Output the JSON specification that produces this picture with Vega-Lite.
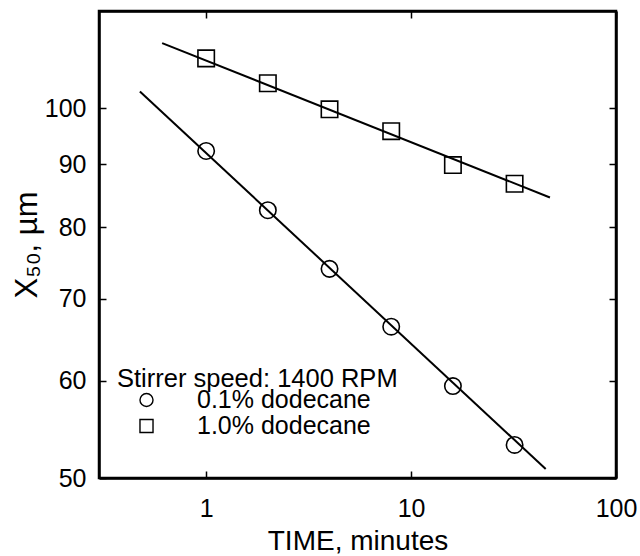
{
  "$schema": "https://vega.github.io/schema/vega-lite/v6.json",
  "autosize": {"type": "none"},
  "padding": {"left": 99, "top": 11, "right": 24, "bottom": 78},
  "width": 517,
  "height": 467,
  "background": "white",
  "config": {
    "view": {"stroke": "black", "strokeWidth": 2.5},
    "font": "Liberation Sans",
    "axis": {
      "grid": false,
      "domainColor": "black",
      "domainWidth": 2.5,
      "tickColor": "black",
      "tickWidth": 1.5,
      "tickSize": -7,
      "labelFont": "Liberation Sans",
      "labelFontSize": 25,
      "labelColor": "black",
      "labelFlush": false,
      "labelOverlap": false,
      "titleFont": "Liberation Sans",
      "titleFontSize": 28,
      "titleFontWeight": "normal",
      "titleColor": "black"
    }
  },
  "datasets": {
    "pts": [
      {"time": 1, "x50": 92.3, "series": "0.1% dodecane"},
      {"time": 2, "x50": 82.6, "series": "0.1% dodecane"},
      {"time": 4, "x50": 74.0, "series": "0.1% dodecane"},
      {"time": 8, "x50": 66.4, "series": "0.1% dodecane"},
      {"time": 16, "x50": 59.4, "series": "0.1% dodecane"},
      {"time": 32, "x50": 53.2, "series": "0.1% dodecane"},
      {"time": 1, "x50": 109.8, "series": "1.0% dodecane"},
      {"time": 2, "x50": 104.8, "series": "1.0% dodecane"},
      {"time": 4, "x50": 99.8, "series": "1.0% dodecane"},
      {"time": 8, "x50": 95.8, "series": "1.0% dodecane"},
      {"time": 16, "x50": 89.9, "series": "1.0% dodecane"},
      {"time": 32, "x50": 86.8, "series": "1.0% dodecane"}
    ],
    "fits": [
      {"time": 0.475, "x50": 103.2, "series": "0.1% dodecane"},
      {"time": 45.4, "x50": 50.85, "series": "0.1% dodecane"},
      {"time": 0.61, "x50": 113.0, "series": "1.0% dodecane"},
      {"time": 47.6, "x50": 84.6, "series": "1.0% dodecane"}
    ]
  },
  "layer": [
    {
      "data": {"name": "fits"},
      "mark": {"type": "line", "color": "black", "strokeWidth": 2},
      "encoding": {
        "x": {"field": "time", "type": "quantitative", "scale": {"type": "log", "domain": [0.3, 100], "nice": false}, "axis": null},
        "y": {"field": "x50", "type": "quantitative", "scale": {"type": "log", "domain": [50, 120], "nice": false}, "axis": null},
        "detail": {"field": "series"}
      }
    },
    {
      "data": {"name": "pts"},
      "mark": {"type": "point", "filled": false, "stroke": "black", "strokeWidth": 1.6, "size": 270, "opacity": 1},
      "encoding": {
        "x": {"field": "time", "type": "quantitative", "scale": {"type": "log", "domain": [0.3, 100], "nice": false},
          "axis": {"orient": "bottom", "values": [1, 10, 100], "format": "~g", "labelPadding": 25, "title": "TIME, minutes", "titlePadding": 6}},
        "y": {"field": "x50", "type": "quantitative", "scale": {"type": "log", "domain": [50, 120], "nice": false},
          "axis": {"orient": "left", "values": [50, 60, 70, 80, 90, 100], "format": "~g", "labelPadding": 20, "title": "X₅₀, µm", "titleFontSize": 31, "titlePadding": 1}},
        "shape": {
          "field": "series", "type": "nominal",
          "scale": {"domain": ["0.1% dodecane", "1.0% dodecane"], "range": ["circle", "square"]},
          "legend": {
            "title": "Stirrer speed: 1400 RPM",
            "orient": "none",
            "legendX": 18,
            "legendY": 356,
            "titleFontSize": 25.5,
            "titleFontWeight": "normal",
            "titleColor": "black",
            "titleFont": "Liberation Sans",
            "titleLimit": 0,
            "titlePadding": -5,
            "labelFontSize": 25,
            "labelColor": "black",
            "labelFont": "Liberation Sans",
            "labelLimit": 0,
            "labelOffset": 38,
            "symbolSize": 170,
            "symbolStrokeColor": "black",
            "symbolStrokeWidth": 1.4,
            "symbolFillColor": "transparent",
            "symbolOffset": 17,
            "rowPadding": -11
          }
        }
      }
    },
    {
      "data": {"name": "pts"},
      "mark": {"type": "point", "opacity": 0},
      "encoding": {
        "x": {"field": "time", "type": "quantitative", "scale": {"type": "log", "domain": [0.3, 100], "nice": false},
          "axis": {"orient": "top", "values": [1, 10, 100], "labels": false, "title": null}},
        "y": {"field": "x50", "type": "quantitative", "scale": {"type": "log", "domain": [50, 120], "nice": false},
          "axis": {"orient": "right", "values": [50, 60, 70, 80, 90, 100], "labels": false, "title": null}}
      }
    }
  ],
  "resolve": {"axis": {"x": "independent", "y": "independent"}}
}
